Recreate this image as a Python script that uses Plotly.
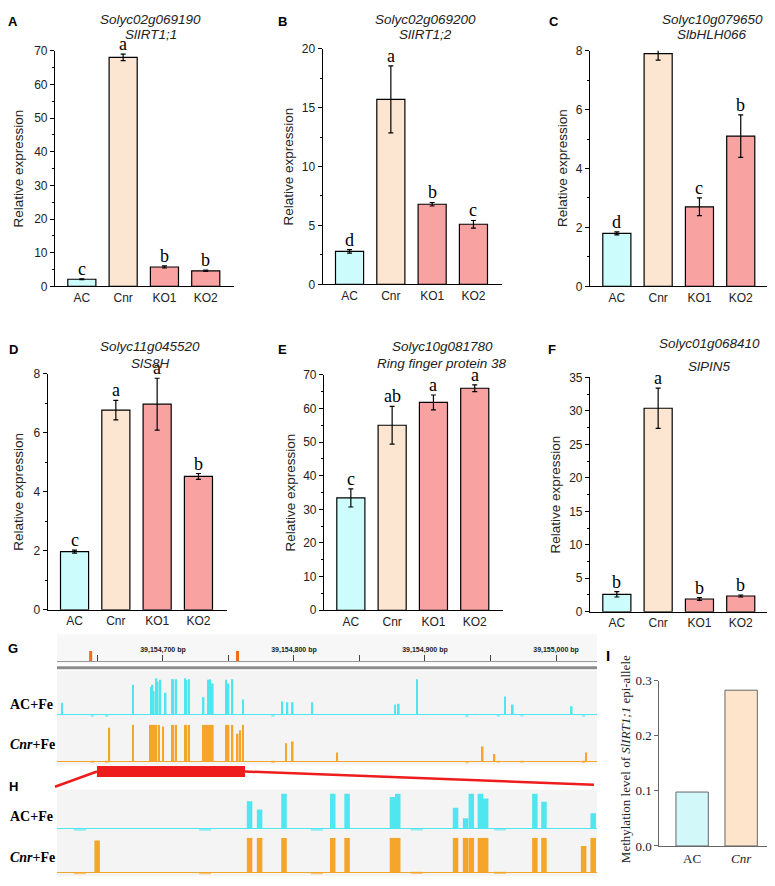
import plotly.graph_objects as go

W, H = 775, 886
OFF = 8  # the page body margin shifts the figure by 8 px; positions below are page pixels
SANS = "Liberation Sans, Arial, sans-serif"
SERIF = "Liberation Serif, Times New Roman, serif"

# ---------------- data ----------------
groups = ["AC", "Cnr", "KO1", "KO2"]

a_mean = [2.1, 68.0, 5.75, 4.6]
a_err = [0.15, 0.95, 0.3, 0.2]
a_sig = ["c", "a", "b", "b"]

b_mean = [2.8, 15.7, 6.8, 5.1]
b_err = [0.15, 2.85, 0.15, 0.32]
b_sig = ["d", "a", "b", "c"]

c_mean = [1.8, 7.9, 2.7, 5.1]
c_err = [0.05, 0.22, 0.3, 0.72]
c_sig = ["d", "a", "c", "b"]

d_mean = [1.97, 6.77, 6.97, 4.52]
d_err = [0.05, 0.33, 0.88, 0.1]
d_sig = ["c", "a", "a", "b"]

e_mean = [33.4, 55.0, 61.8, 66.0]
e_err = [2.7, 5.6, 2.2, 1.0]
e_sig = ["c", "ab", "a", "a"]

f_mean = [2.6, 30.4, 1.9, 2.35]
f_err = [0.4, 3.0, 0.2, 0.15]
f_sig = ["b", "a", "b", "b"]

# G: genome browser view (bp offset from 39,154,000), methylation signal 0-1
CHR_OFFSET = 39154000
ruler_ticks = [650, 700, 750, 800, 850, 900, 950, 1000]
ruler_labels = ["", "39,154,700 bp", "", "39,154,800 bp", "", "39,154,900 bp", "", "39,155,000 bp"]
ruler_marks = [644.8, 756.9]

g_ac_pos = [623, 677, 691, 692, 693, 695, 696, 698, 702, 707, 708, 710, 717, 718, 720, 731,
            735, 736, 738, 748, 750, 753, 761, 791, 795, 799, 814, 877, 880, 894, 961, 967, 1012]
g_ac_val = [0.32, 0.79, 0.73, 0.79, 0.62, 0.96, 0.87, 0.92, 0.58, 0.93, 0.93, 0.93, 0.96, 0.92, 0.93, 0.46,
            0.92, 0.93, 0.82, 0.92, 0.82, 0.93, 0.40, 0.35, 0.33, 0.33, 0.33, 0.27, 0.29, 0.93, 0.48, 0.27, 0.23]

g_cnr_pos = [659, 677, 690, 691, 692, 693, 694, 695, 697, 700, 707, 708, 710, 717, 718, 720,
             731, 732, 733, 734, 735, 736, 737, 738, 748, 750, 753, 757, 759, 761, 794, 799, 833, 944, 953, 1023]
g_cnr_val = [0.92, 1.0, 1.0, 1.0, 1.0, 1.0, 1.0, 1.0, 1.0, 0.95, 1.0, 1.0, 1.0, 1.0, 1.0, 1.0,
             1.0, 1.0, 1.0, 1.0, 1.0, 1.0, 1.0, 1.0, 1.0, 1.0, 1.0, 0.75, 0.85, 1.0, 0.49, 0.54, 0.24, 0.40, 0.20, 0.24]

g_dip_pos = [646, 657, 784, 932, 956, 974, 1021]
g_dip_val = [-0.05, -0.05, -0.05, -0.06, -0.04, -0.04, -0.05]

# H: zoom on 39,154,649.6 - 39,154,762.6
h_range = [649.6, 762.6]
h_ac_pos = [689.9, 692.0, 697.1, 707.3, 710.3, 719.8, 720.9, 733.0, 735.1, 736.3, 738.2, 739.3, 749.6, 751.5, 761.8]
h_ac_val = [0.78, 0.55, 1.0, 1.0, 1.0, 0.9, 1.0, 0.6, 0.3, 1.0, 1.0, 0.86, 1.0, 0.77, 0.44]
h_cnr_pos = [658.0, 689.9, 692.0, 697.1, 707.3, 710.3, 719.8, 720.9, 733.0, 735.1, 736.3, 738.2, 739.3,
             749.6, 751.5, 759.8, 761.8]
h_cnr_val = [0.92, 1.0, 1.0, 1.0, 1.0, 1.0, 1.0, 1.0, 1.0, 1.0, 1.0, 1.0, 1.0, 1.0, 1.0, 0.76, 1.0]
h_dip_pos = [654.4, 680.6, 704.0, 724.9, 742.3]
h_dip_val = [-0.06, -0.06, -0.06, -0.05, -0.05]

# I: methylation level of SlIRT1;1 epi-allele
i_groups = ["AC", "<i>Cnr</i>"]
i_vals = [0.098, 0.283]

# ---------------- styling ----------------
COL_AC = "#cdfcfd"
COL_CNR = "#fde6d1"
COL_KO = "#f8a2a2"
CYAN = "#4fe6f0"
ORANGE = "#f5a52a"
RED = "#ee1c1c"


def px(x):
    return (x - OFF) / W


def py(y):
    return 1 - (y - OFF) / H


def note(x, y, text, size, family=SANS, **kw):
    d = dict(x=px(x), y=py(y), xref="paper", yref="paper", text=text, showarrow=False,
             xanchor="center", yanchor="middle", font=dict(size=size, family=family, color="#222"))
    d.update(kw)
    return d


fig = go.Figure()
layout = dict(
    width=W, height=H, margin=dict(l=0, r=0, t=0, b=0),
    paper_bgcolor="white", plot_bgcolor="rgba(0,0,0,0)",
    showlegend=False, font=dict(family=SANS, color="#222"),
)
annotations = []
shapes = []

# panel geometry: letter, data, axis-x px, y0 px (value 0), ytop px, ymax, dtick, minor,
# title x / line y's, letter pos, y-title x
panels = [
    ("A", "Solyc02g069190", "SlIRT1;1", a_mean, a_err, a_sig, 55, 284, 44.3, 70, 10, 5, 150.5, 13, 27.5, 13, 15, 19),
    ("B", "Solyc02g069200", "SlIRT1;2", b_mean, b_err, b_sig, 322.7, 282, 42.3, 20, 5, 2.5, 426, 13, 27.5, 282, 15, 289),
    ("C", "Solyc10g079650", "SlbHLH066", c_mean, c_err, c_sig, 590, 284, 44.3, 8, 2, 1, 712, 13, 27.5, 554, 15, 562.5),
    ("D", "Solyc11g045520", "SlS8H", d_mean, d_err, d_sig, 47.7, 613, 373, 8, 2, 1, 150, 345, 362, 13, 348, 19),
    ("E", "Solyc10g081780", "Ring finger protein 38", e_mean, e_err, e_sig, 324, 613.5, 374, 70, 10, 5, 442, 345, 362, 282, 348, 291),
    ("F", "Solyc01g068410", "SlPIN5", f_mean, f_err, f_sig, 590, 615, 376.7, 35, 5, 2.5, 709, 342, 366, 552, 348, 556),
]
XR = [-0.65, 3.68]
SPACING = 41.3

for i, (lab, gene, name, mean, err, sig, ax_x, y0, ytop, ymax, dt, mn, tx, ty1, ty2, lx, ly, ytx) in enumerate(panels):
    n = i + 1
    sfx = "" if n == 1 else str(n)
    fig.add_trace(go.Bar(
        x=[0, 1, 2, 3], y=mean, width=0.68,
        marker=dict(color=[COL_AC, COL_CNR, COL_KO, COL_KO], line=dict(color="black", width=1.2)),
        error_y=dict(type="data", array=err, color="black", thickness=1.2, width=2.5),
        xaxis="x" + sfx, yaxis="y" + sfx, hoverinfo="skip",
    ))
    x1 = ax_x + (XR[1] - XR[0]) * SPACING
    layout["xaxis" + sfx] = dict(
        domain=[px(ax_x), px(x1)], range=XR, anchor="y" + sfx,
        tickvals=[0, 1, 2, 3], ticktext=groups, ticks="", showline=True,
        linecolor="black", linewidth=1.2, showgrid=False, zeroline=False,
        tickfont=dict(size=12, family=SANS, color="#222"), fixedrange=True,
    )
    layout["yaxis" + sfx] = dict(
        domain=[py(y0), py(ytop)], range=[0, ymax], anchor="x" + sfx,
        dtick=dt, tick0=0, ticks="outside", ticklen=4, tickcolor="black",
        minor=dict(ticks="outside", ticklen=2, dtick=mn, tickcolor="black"),
        showline=True, linecolor="black", linewidth=1.2, showgrid=False, zeroline=False,
        tickfont=dict(size=12, family=SANS, color="#222"), fixedrange=True,
    )
    for k in range(4):
        annotations.append(dict(
            x=k, y=mean[k] + err[k], xref="x" + sfx, yref="y" + sfx, text=sig[k],
            showarrow=False, yanchor="bottom", yshift=-2, font=dict(size=18, family=SERIF, color="black"),
        ))
    annotations.append(note(tx, ty1, "<i>%s</i>" % gene, 13.5))
    annotations.append(note(tx, ty2, "<i>%s</i>" % name, 13.5))
    annotations.append(note(lx, ly, "<b>%s</b>" % lab, 13, font=dict(size=13, family=SANS, color="black")))
    annotations.append(note(ytx, (y0 + ytop) / 2, "Relative expression", 13.5, textangle=-90))

# ---------------- G / H genome browser ----------------
TX0, TX1 = 57, 597
g_range = [CHR_OFFSET + 619.1, CHR_OFFSET + 1031.3]


def abs_bp(v):
    return [CHR_OFFSET + p for p in v]


# backgrounds
shapes.append(dict(type="rect", xref="paper", yref="paper", x0=px(TX0), x1=px(TX1), y0=py(668), y1=py(638),
                   fillcolor="#f7f7f7", line_width=0, layer="below"))
shapes.append(dict(type="rect", xref="paper", yref="paper", x0=px(TX0), x1=px(TX1), y0=py(771), y1=py(675),
                   fillcolor="#f4f4f4", line_width=0, layer="below"))
shapes.append(dict(type="rect", xref="paper", yref="paper", x0=px(TX0), x1=px(TX1), y0=py(884), y1=py(796),
                   fillcolor="#f4f4f4", line_width=0, layer="below"))
shapes.append(dict(type="line", xref="paper", yref="paper", x0=px(TX0), x1=px(TX1), y0=py(672), y1=py(672),
                   line=dict(color="#8c8c8c", width=3)))

# ruler (x7 / y7)
fig.add_trace(go.Bar(x=abs_bp(ruler_marks), y=[1, 1], width=2.3, marker=dict(color="#f26a1b", line_width=0),
                     xaxis="x7", yaxis="y7", hoverinfo="skip"))
layout["xaxis7"] = dict(
    domain=[px(TX0), px(TX1)], range=g_range, anchor="free", position=py(665), side="top",
    tickvals=abs_bp(ruler_ticks), ticktext=ruler_labels, ticks="outside", ticklen=6, tickcolor="#444",
    showline=True, linecolor="#999", linewidth=1, showgrid=False, zeroline=False,
    tickfont=dict(size=7, family=SANS, color="#222", weight="bold"), fixedrange=True,
)
layout["yaxis7"] = dict(domain=[py(665.5), py(655)], range=[0, 1], anchor="x7", visible=False, fixedrange=True)

tracks = [
    # axis n, x data, y data, color, baseline px, top px, range, dips, bar width (bp)
    (8, abs_bp(g_ac_pos), g_ac_val, CYAN, 720, 681, g_range, abs_bp(g_dip_pos), g_dip_val, 1.3),
    (9, abs_bp(g_cnr_pos), g_cnr_val, ORANGE, 767, 730, g_range, abs_bp(g_dip_pos), g_dip_val, 1.3),
    (10, abs_bp(h_ac_pos), h_ac_val, CYAN, 835.7, 800, [CHR_OFFSET + r for r in h_range], abs_bp(h_dip_pos), h_dip_val, 1.15),
    (11, abs_bp(h_cnr_pos), h_cnr_val, ORANGE, 880, 845, [CHR_OFFSET + r for r in h_range], abs_bp(h_dip_pos), h_dip_val, 1.15),
]
for n, xs, ys, col, base, top, rng, dx, dy, wbp in tracks:
    unit = base - top
    fig.add_trace(go.Bar(x=xs, y=ys, width=wbp, marker=dict(color=col, line_width=0),
                         xaxis="x%d" % n, yaxis="y%d" % n, hoverinfo="skip"))
    fig.add_trace(go.Bar(x=dx, y=dy, width=2.5, marker=dict(color=col, opacity=0.6, line_width=0),
                         xaxis="x%d" % n, yaxis="y%d" % n, hoverinfo="skip"))
    layout["xaxis%d" % n] = dict(domain=[px(TX0), px(TX1)], range=rng, anchor="y%d" % n, visible=False,
                                 fixedrange=True)
    layout["yaxis%d" % n] = dict(domain=[py(base + 0.1 * unit), py(top)], range=[-0.1, 1.0], anchor="x%d" % n,
                                 showticklabels=False, ticks="", showgrid=False, showline=False,
                                 zeroline=True, zerolinecolor=col, zerolinewidth=1, fixedrange=True)

layout["barmode"] = "overlay"

# red zoom connector
shapes.append(dict(type="line", xref="paper", yref="paper", x0=px(55), y0=py(793), x1=px(97), y1=py(777.5),
                   line=dict(color=RED, width=2.5)))
shapes.append(dict(type="rect", xref="x8", yref="paper", x0=CHR_OFFSET + h_range[0], x1=CHR_OFFSET + h_range[1],
                   y0=py(783), y1=py(772), fillcolor=RED, line_width=0))
shapes.append(dict(type="line", xref="paper", yref="paper", x0=px(245), y0=py(777.5), x1=px(594), y1=py(791),
                   line=dict(color=RED, width=2.5)))

track_labels = [("<b>AC+Fe</b>", 709), ("<b><i>Cnr</i>+Fe</b>", 750), ("<b>AC+Fe</b>", 823), ("<b><i>Cnr</i>+Fe</b>", 865)]
for txt, yy in track_labels:
    annotations.append(note(8, yy, txt, 14, SERIF, xanchor="left",
                            font=dict(size=14, family=SERIF, color="black")))
for lab, lx, ly in [("G", 13, 652), ("H", 13, 793)]:
    annotations.append(note(lx, ly, "<b>%s</b>" % lab, 13, font=dict(size=13, family=SANS, color="black")))

# ---------------- I ----------------
fig.add_trace(go.Bar(x=[0, 1], y=i_vals, width=0.66,
                     marker=dict(color=["#d3f8fa", "#fde4cb"], line=dict(color="#666", width=1)),
                     xaxis="x12", yaxis="y12", hoverinfo="skip"))
layout["xaxis12"] = dict(domain=[px(659.3), px(773)], range=[-0.67, 1.65], anchor="y12",
                         tickvals=[0, 1], ticktext=i_groups, ticks="", showline=True, linecolor="#666",
                         showgrid=False, zeroline=False, tickfont=dict(size=13, family=SERIF, color="#222"),
                         fixedrange=True)
layout["yaxis12"] = dict(domain=[py(853.3), py(685.3)], range=[0, 0.3], anchor="x12", dtick=0.1,
                         tickformat=".1f", ticks="outside", ticklen=4, tickcolor="#666", showline=True,
                         linecolor="#666", showgrid=False, zeroline=False,
                         tickfont=dict(size=13, family=SERIF, color="#222"), fixedrange=True)
annotations.append(note(625, 765, "Methylation level of <i>SlIRT1;1</i> epi-allele", 13, SERIF, textangle=-90))
annotations.append(note(608, 660, "<b>I</b>", 15, font=dict(size=15, family=SANS, color="black")))

layout["annotations"] = annotations
layout["shapes"] = shapes
fig.update_layout(**layout)

fig.write_html("out.html")
